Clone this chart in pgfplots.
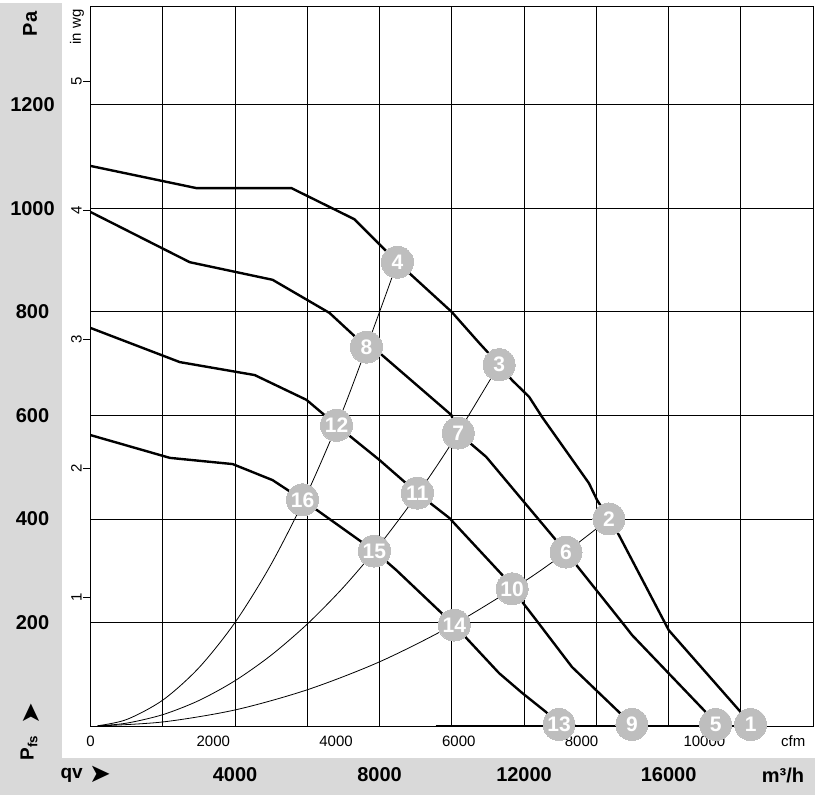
\documentclass[border=0pt]{standalone}
\usepackage{fontspec}
\setmainfont{Liberation Sans}
\newfontfamily\dejavu{DejaVu Sans}
\usepackage{pgfplots}
\pgfplotsset{compat=1.18}
\usepackage{pgfplotstable}
\definecolor{panel}{RGB}{217,217,217}
\definecolor{mk}{RGB}{190,190,190}
\newcommand\bigf{\fontsize{20}{24}\selectfont\bfseries}
\newcommand\midf{\fontsize{19}{22}\selectfont\bfseries}
\newcommand\smallf{\fontsize{15}{18}\selectfont}

\pgfplotstableread{
x y
0 1082
2942 1039
5565 1039
7305 979
8493 896
9997 800
10758 740
11310 698
11669 668
12139 636
12498 597
13796 469
14017 437
14348 400
14625 369
16005 185
17994 27
18270 3
}\curveA
\pgfplotstableread{
x y
0 993
2748 896
5040 862
6615 798
7637 732
7996 721
9985 601
10178 566
10951 520
12885 359
13161 336
14818 191
14984 176
17027 27
17303 3
}\curveB
\pgfplotstableread{
x y
0 769
2472 703
4544 678
5980 630
6809 581
7996 514
9046 450
9930 402
11394 292
11670 265
12332 205
13326 114
14625 27
14984 3
}\curveC
\pgfplotstableread{
x y
0 562
2196 518
3936 506
5040 475
5869 437
7858 338
8466 301
10068 195
11310 102
11945 64
12608 27
12967 3
}\curveD
\pgfplotstableread{
x y
200 0.5
1000 12.5
2000 50
3000 112.5
4000 200
5000 312.5
6000 450
7000 612.5
8000 800
8493 896
}\sysA
\pgfplotstableread{
x y
200 0.2
1000 5.5
2000 21.9
3000 49.2
4000 87.5
5000 136.8
6000 197
7000 268
8000 350
9000 443
10000 547
11310 698
}\sysB
\pgfplotstableread{
x y
200 0.1
2000 7.8
4000 31
6000 70
8000 124
10000 194
12000 279
13161 336
14348 400
}\sysC
\pgfplotstableread{
x y label
18270 3 1
14348 400 2
11310 698 3
8493 896 4
17303 3 5
13161 336 6
10178 566 7
7637 732 8
14984 3 9
11670 265 10
9046 450 11
6809 581 12
12967 3 13
10068 195 14
7858 338 15
5869 437 16
}\markers

\begin{document}
\begin{tikzpicture}[x=1pt,y=1pt]
\useasboundingbox (0,0) rectangle (818,799);
\fill[panel] (0,4) rectangle (62,796);
\fill[panel] (0,4) rectangle (815,41);
\node[rotate=90, font=\bigf] at (30,775) {Pa};
\node[rotate=90, font=\smallf] at (77,772) {in wg};
\node[rotate=90, anchor=west, font=\midf] at (29,35) {P\textsubscript{fs}};
\node[rotate=90, font=\dejavu\fontsize{26}{30}\selectfont] at (31,85) {➤};
\node[anchor=west, font=\midf] at (57,24) {qv};
\node[font=\dejavu\fontsize{26}{30}\selectfont] at (100,25) {➤};
\node[font=\bigf] at (783,24) {m³/h};
\begin{axis}[
  at={(90.5pt,73pt)}, anchor=south west,
  width=722.6pt, height=720pt, scale only axis,
  xmin=0, xmax=20000, ymin=0, ymax=1391,
  xtick={0,2000,...,20000}, ytick={0,200,...,1200},
  xticklabels={,,4000,,8000,,12000,,16000,,},
  yticklabels={,200,400,600,800,1000,1200},
  grid=major, major grid style={black, line width=0.9pt},
  major tick length=0pt,
  axis line style={black, line width=0.9pt},
  xticklabel style={anchor=center, yshift=-49pt, font=\bigf},
  yticklabel style={anchor=center, xshift=-58pt, font=\bigf},
  clip=false, scaled ticks=false,
]
\addplot[black, line width=0.8pt, smooth] table {\sysA};
\addplot[black, line width=0.8pt, smooth] table {\sysB};
\addplot[black, line width=0.8pt, smooth] table {\sysC};
\addplot[black, line width=2.4pt] table {\curveA};
\addplot[black, line width=2.4pt] table {\curveB};
\addplot[black, line width=2.4pt] table {\curveC};
\addplot[black, line width=2.4pt] table {\curveD};
\addplot[black, line width=2.4pt] coordinates {(9550,0) (18270,0)};
% in wg ticks
\draw[line width=0.9pt] (axis cs:0,249.09) -- ++(-8pt,0pt);
\draw[line width=0.9pt] (axis cs:0,498.18) -- ++(-8pt,0pt);
\draw[line width=0.9pt] (axis cs:0,747.27) -- ++(-8pt,0pt);
\draw[line width=0.9pt] (axis cs:0,996.36) -- ++(-8pt,0pt);
\draw[line width=0.9pt] (axis cs:0,1245.45) -- ++(-8pt,0pt);
\node[rotate=90, font=\smallf] at ([xshift=-14pt]axis cs:0,249.09) {1};
\node[rotate=90, font=\smallf] at ([xshift=-14pt]axis cs:0,498.18) {2};
\node[rotate=90, font=\smallf] at ([xshift=-14pt]axis cs:0,747.27) {3};
\node[rotate=90, font=\smallf] at ([xshift=-14pt]axis cs:0,996.36) {4};
\node[rotate=90, font=\smallf] at ([xshift=-14pt]axis cs:0,1245.45) {5};
% cfm labels
\node[font=\smallf] at ([yshift=-15pt]axis cs:0,0) {0};
\node[font=\smallf] at ([yshift=-15pt]axis cs:3398,0) {2000};
\node[font=\smallf] at ([yshift=-15pt]axis cs:6796,0) {4000};
\node[font=\smallf] at ([yshift=-15pt]axis cs:10194,0) {6000};
\node[font=\smallf] at ([yshift=-15pt]axis cs:13592,0) {8000};
\node[font=\smallf] at ([yshift=-15pt]axis cs:16990,0) {10000};
\node[font=\smallf] at ([yshift=-15pt]axis cs:19450,0) {cfm};
\addplot[only marks, color=mk, mark=*, mark size=16pt, mark options={fill=mk, draw=mk, line width=0pt},
  point meta=explicit symbolic, nodes near coords,
  nodes near coords style={anchor=center, text=white, font=\fontsize{21}{21}\selectfont\bfseries}]
  table[meta=label] {\markers};
\end{axis}
\end{tikzpicture}
\end{document}
